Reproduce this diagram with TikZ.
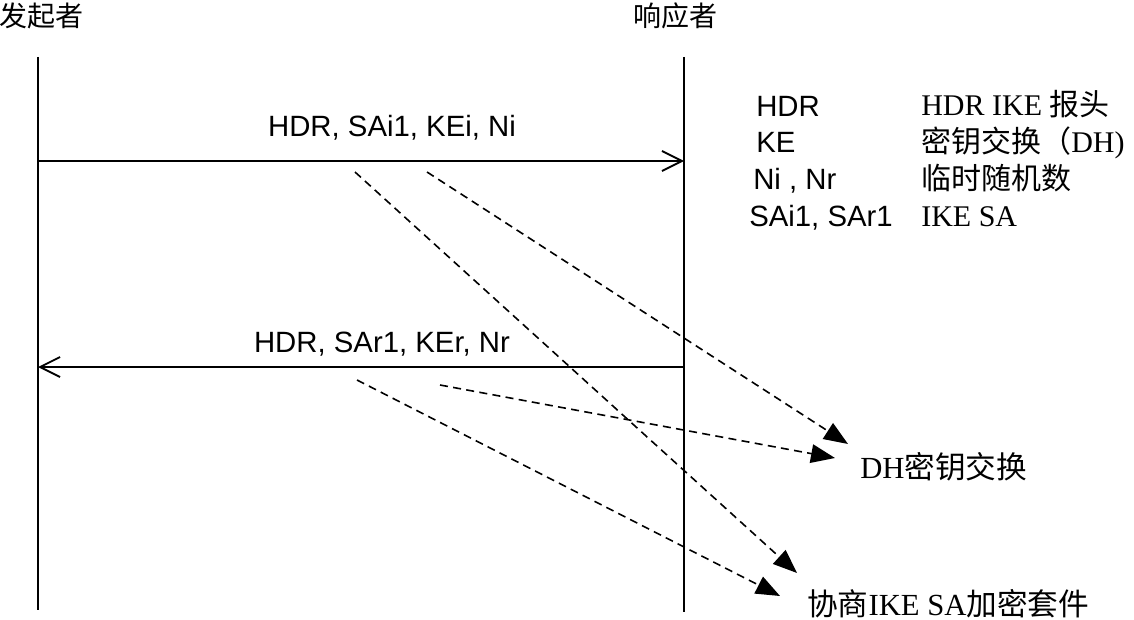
\documentclass[tikz,border=0pt]{standalone}
\usepackage{fontspec}
\setmainfont{Liberation Serif}
\newfontfamily\cjk{Noto Sans CJK SC}
\newfontfamily\hv{Liberation Sans}
\usetikzlibrary{arrows.meta}
\begin{document}
\begin{tikzpicture}[x=0.75pt,y=-0.75pt,
  life/.style={line width=1.4pt},
  msg/.style={line width=1.4pt,-{Straight Barb[length=15pt,width=15pt]}},
  dsh/.style={line width=1.2pt,dash pattern=on 6pt off 4pt,-{Triangle[length=18pt,width=14pt]}},
  lbl/.style={font=\hv\fontsize{22}{26}\selectfont,inner sep=0pt},
  ttl/.style={font=\cjk\fontsize{21}{25}\selectfont,inner sep=0pt},
  leg/.style={font=\fontsize{22.5}{26}\selectfont,inner sep=0pt,anchor=base west},
  note/.style={font=\fontsize{23}{27}\selectfont,inner sep=0pt,anchor=base west}]
\useasboundingbox (0,0) rectangle (1134,620);
% titles
\node[ttl] (tI) at (41,16) {发起者};
\node[ttl] (tR) at (675,16) {响应者};
% lifelines
\coordinate (iTop) at (38,57);
\coordinate (iBot) at (38,610);
\coordinate (rTop) at (684,57);
\coordinate (rBot) at (684,612);
\draw[life] (iTop) -- (iBot);
\draw[life] (rTop) -- (rBot);
% messages
\coordinate (m1s) at (38,161);
\coordinate (m1e) at (684,161);
\draw[msg] (m1s) -- (m1e);
\node[lbl,anchor=base] (l1) at (392,137) {HDR, SAi1, KEi, Ni};
\coordinate (m2s) at (684,367);
\coordinate (m2e) at (38,367);
\draw[msg] (m2s) -- (m2e);
\node[lbl,anchor=base] (l2) at (382,352) {HDR, SAr1, KEr, Nr};
% legend
\node[leg,font=\hv\fontsize{22}{26}\selectfont] (k1) at (756,117) {HDR};
\node[leg,font=\hv\fontsize{22}{26}\selectfont] (k2) at (756,153) {KE};
\node[leg,font=\hv\fontsize{22}{26}\selectfont] (k3) at (753,190) {Ni , Nr};
\node[leg,font=\hv\fontsize{22}{26}\selectfont] (k4) at (749,227) {SAi1, SAr1};
\node[leg] (v1) at (921,116) {HDR IKE {\cjk 报头}};
\node[leg] (v2) at (921,153) {{\cjk 密钥交换（}DH)};
\node[leg] (v3) at (921,190) {{\cjk 临时随机数}};
\node[leg] (v4) at (921,227) {IKE SA};
% result notes
\node[note] (dh) at (860,478) {DH{\cjk 密钥交换}};
\node[note] (sa) at (807,615) {{\cjk 协商}IKE SA{\cjk 加密套件}};
% dashed arrows
\coordinate (d1s) at (355,172);
\coordinate (d1e) at (797,573);
\coordinate (d2s) at (427,172);
\coordinate (d2e) at (848,444);
\coordinate (d3s) at (440,385);
\coordinate (d3e) at (835,458);
\coordinate (d4s) at (357,380);
\coordinate (d4e) at (780,596);
\draw[dsh] (d1s) -- (d1e);
\draw[dsh] (d2s) -- (d2e);
\draw[dsh] (d3s) -- (d3e);
\draw[dsh] (d4s) -- (d4e);
\end{tikzpicture}
\end{document}
